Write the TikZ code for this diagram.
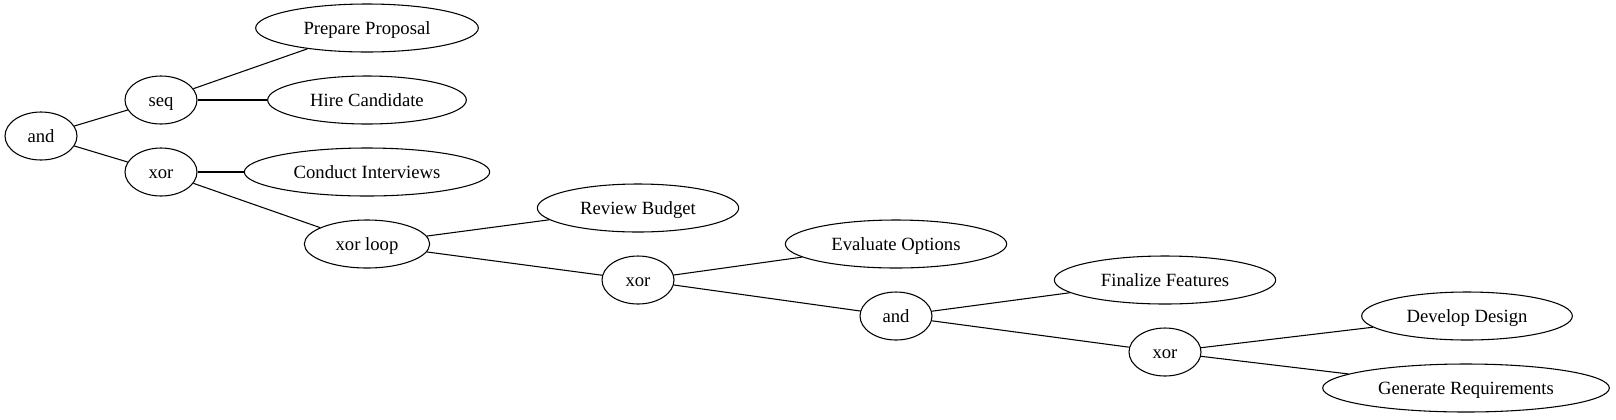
\documentclass[tikz,border=0pt]{standalone}
\usepackage{fontspec}
\setmainfont{Liberation Serif}
\usepackage{tikz}
\usetikzlibrary{shapes.geometric}

\begin{document}
\begin{tikzpicture}[
  x=0.75pt,y=-0.75pt,
  every node/.style={font=\fontsize{14pt}{16pt}\selectfont,align=center},
  gate/.style={draw,ellipse,line width=0.8pt,inner sep=0pt,
               text height=10pt,text depth=1pt,
               minimum width=54pt,minimum height=36pt},
  task/.style={gate},
  edge/.style={line width=0.8pt}
]
  \useasboundingbox (0,0) rectangle (1616,419);

  % operators
  \node[gate] (root) at (41,136) {and};
  \node[gate] (seq) at (161,100) {seq};
  \node[gate] (xorA) at (161,172) {xor};
  \node[gate,minimum width=94pt] (loop) at (367,244) {xor loop};
  \node[gate] (xorB) at (638,280) {xor};
  \node[gate] (andB) at (896,316) {and};
  \node[gate] (xorC) at (1165,352) {xor};

  % activities
  \node[task,minimum width=167pt] (prep) at (367,28) {Prepare Proposal};
  \node[task,minimum width=149pt] (hire) at (367,100) {Hire Candidate};
  \node[task,minimum width=184pt] (interv) at (367,172) {Conduct Interviews};
  \node[task,minimum width=151pt] (budget) at (638,208) {Review Budget};
  \node[task,minimum width=166pt] (options) at (896,244) {Evaluate Options};
  \node[task,minimum width=166pt] (features) at (1165,280) {Finalize Features};
  \node[task,minimum width=158pt] (design) at (1467,316) {Develop Design};
  \node[task,minimum width=215pt] (reqs) at (1466,388) {Generate Requirements};

  \draw[edge] (root) -- (seq);
  \draw[edge] (root) -- (xorA);
  \draw[edge] (seq) -- (prep);
  \draw[edge] (seq) -- (hire);
  \draw[edge] (xorA) -- (interv);
  \draw[edge] (xorA) -- (loop);
  \draw[edge] (loop) -- (budget);
  \draw[edge] (loop) -- (xorB);
  \draw[edge] (xorB) -- (options);
  \draw[edge] (xorB) -- (andB);
  \draw[edge] (andB) -- (features);
  \draw[edge] (andB) -- (xorC);
  \draw[edge] (xorC) -- (design);
  \draw[edge] (xorC) -- (reqs);
\end{tikzpicture}
\end{document}
